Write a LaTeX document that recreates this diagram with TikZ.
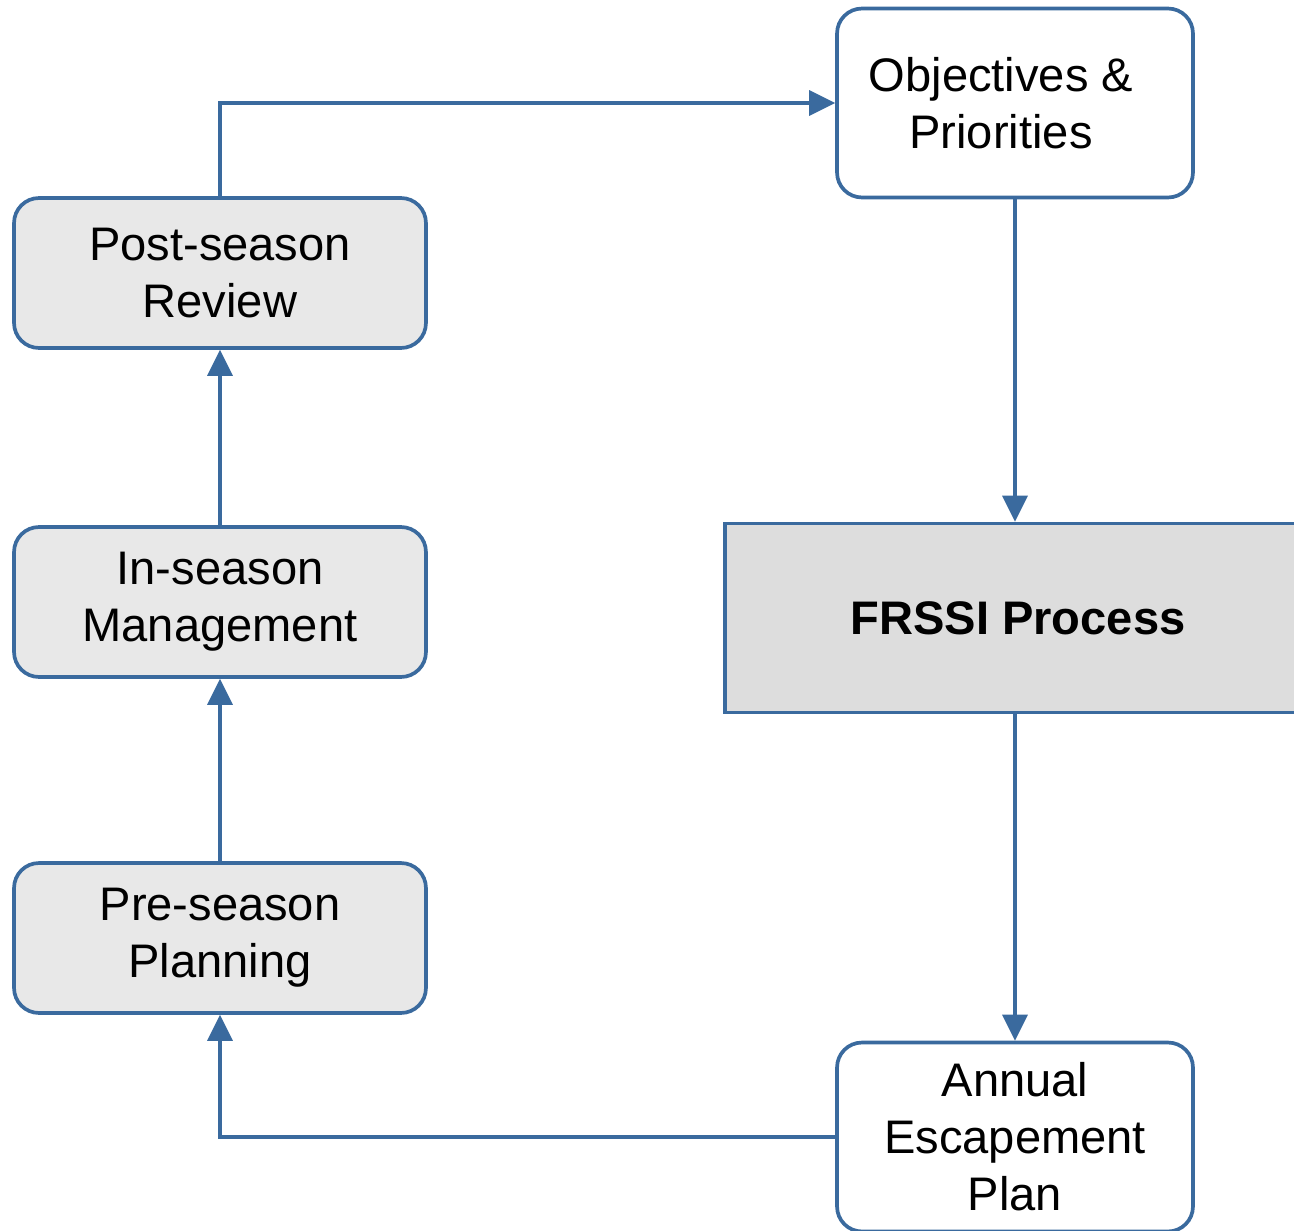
\documentclass[tikz,border=0pt]{standalone}
\usepackage{fontspec}
\setmainfont{Liberation Sans}
\usetikzlibrary{arrows.meta}
\definecolor{flowblue}{HTML}{3A6A9E}
\definecolor{stagegray}{HTML}{E8E8E8}
\definecolor{coregray}{HTML}{DDDDDD}
\newcommand{\boxfont}{\fontsize{26.8}{32.4}\selectfont}
\tikzset{
  stage/.style={draw=flowblue, line width=2.1pt, rounded corners=0.5cm, fill=stagegray,
    minimum width=8.24cm, minimum height=3.0cm, align=center},
  docbox/.style={draw=flowblue, line width=2.1pt, rounded corners=0.5cm, fill=white,
    minimum width=7.12cm, minimum height=3.78cm, align=center},
  corebox/.style={draw=flowblue, line width=2.1pt, fill=coregray,
    minimum width=11.72cm, minimum height=3.78cm, align=center, font=\boxfont\bfseries},
  flow/.style={draw=flowblue, line width=2pt, -{Triangle[length=0.52cm, width=0.5cm]}}
}
\begin{document}
\begin{tikzpicture}[x=0.02cm, y=-0.02cm, font=\boxfont]
		\useasboundingbox (0,0) rectangle (1294,1230);
		\node[docbox] (obj) at (1015,103) {Objectives \&\hspace*{0.56cm}\\Priorities\hspace*{0.56cm}};
		\node[corebox] (frssi) at (1018,618) {FRSSI Process};
		\node[docbox] (annual) at (1015,1137) {Annual\\Escapement\\Plan};
		\node[stage] (pre) at (220,938) {Pre-season\\Planning};
		\node[stage] (in) at (220,602) {In-season\\Management};
		\node[stage] (post) at (220,273) {Post-season\\Review};

		\draw[flow] (obj.south) -- (obj.south |- frssi.north);
		\draw[flow] (obj.south |- frssi.south) -- (annual.north);
		\draw[flow] (annual.west) -| (pre.south);
		\draw[flow] (pre) -- (in);
		\draw[flow] (in) -- (post);
		\draw[flow] (post.north) |- (obj.west);
	\end{tikzpicture}
\end{document}
